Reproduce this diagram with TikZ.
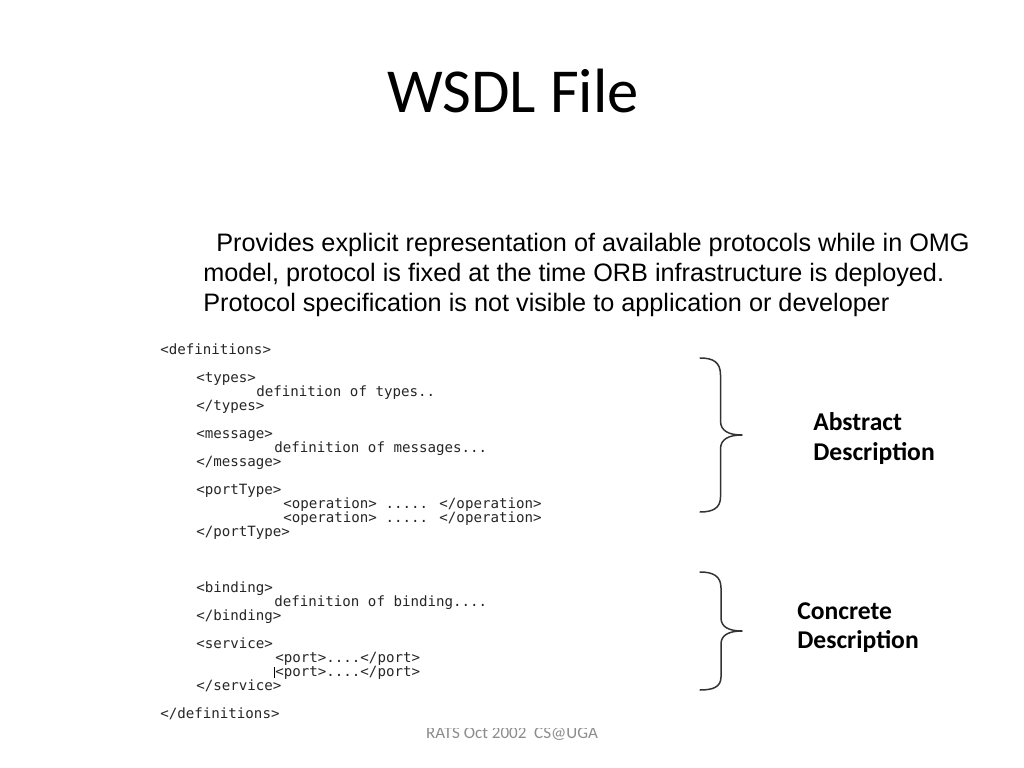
\documentclass[tikz,border=0pt]{standalone}
\usepackage{fontspec}
\setmainfont{Carlito}
\newfontfamily\arialf{Liberation Sans}
\newfontfamily\monof{DejaVu Sans Mono}
\begin{document}
\begin{tikzpicture}[x=0.703125pt,y=-0.703125pt,
  code/.style={anchor=base west,inner sep=0pt,text=black!85,font=\monof\fontsize{9.95}{12}\selectfont},
  para/.style={anchor=base west,inner sep=0pt,font=\arialf\fontsize{17.75}{21}\selectfont},
  lbl/.style={anchor=base west,inner sep=0pt,font=\bfseries\fontsize{18}{21}\selectfont},
  brace/.style={draw=black!80,line width=1.05pt,line cap=round,line join=round}]
\fill[white] (0,0) rectangle (1024,768);
\useasboundingbox (0,0) rectangle (1024,768);
% title
\node[anchor=base,inner sep=0pt,font=\fontsize{44}{50}\selectfont] (title) at (513,113) {WSDL File};
% paragraph
\node[para] (p1) at (216,252) {Provides explicit representation of available protocols while in OMG};
\node[para] (p2) at (203,282) {model, protocol is fixed at the time ORB infrastructure is deployed.};
\node[para] (p3) at (203,312) {Protocol specification is not visible to application or developer};
% code
\node[code] (c1) at (160,354) {<definitions>};
\node[code] (c2) at (196,382) {<types>};
\node[code] (c3) at (256,396) {definition of types..};
\node[code] (c4) at (196,410) {</types>};
\node[code] (c5) at (196,438) {<message>};
\node[code] (c6) at (274,452) {definition of messages...};
\node[code] (c7) at (196,466) {</message>};
\node[code] (c8) at (196,494) {<portType>};
\node[code] (c9) at (283,508) {<operation> ..... </operation>};
\node[code] (c10) at (283,522) {<operation> ..... </operation>};
\node[code] (c11) at (196,536) {</portType>};
\node[code] (c12) at (196,592) {<binding>};
\node[code] (c13) at (274,606) {definition of binding....};
\node[code] (c14) at (196,620) {</binding>};
\node[code] (c15) at (196,648) {<service>};
\node[code] (c16) at (275,662) {<port>....</port>};
\node[code] (c17) at (275,676) {<port>....</port>};
\node[code] (c18) at (196,690) {</service>};
\node[code] (c19) at (160,718) {</definitions>};
\draw[black,line width=0.5pt] (274.3,667) -- (274.3,678);
% braces
\draw[brace] (700,358) .. controls (713,358) and (720.5,362) .. (720.5,375)
  -- (720.5,421) .. controls (720.5,431) and (729,435) .. (742,435)
  .. controls (729,435) and (720.5,439) .. (720.5,449)
  -- (720.5,497) .. controls (720.5,508) and (713,512) .. (700,512);
\draw[brace] (700,572) .. controls (713,572) and (721,576) .. (721,588)
  -- (721,618) .. controls (721,627) and (729,631) .. (742,631)
  .. controls (729,631) and (721,635) .. (721,644)
  -- (721,677) .. controls (721,687) and (713,690) .. (700,690);
% labels
\node[lbl] (abs1) at (813,430) {Abstract};
\node[lbl] (abs2) at (813,460) {Description};
\node[lbl] (con1) at (797,619) {Concrete};
\node[lbl] (con2) at (797,648.5) {Description};
% footer
\begin{scope}
\clip (0,728.5) rectangle (1024,768);
\node[anchor=base,inner sep=0pt,text=black!45,font=\fontsize{12}{14}\selectfont] (foot) at (512,738.5) {RATS Oct 2002\ \ CS@UGA};
\end{scope}
\end{tikzpicture}
\end{document}
